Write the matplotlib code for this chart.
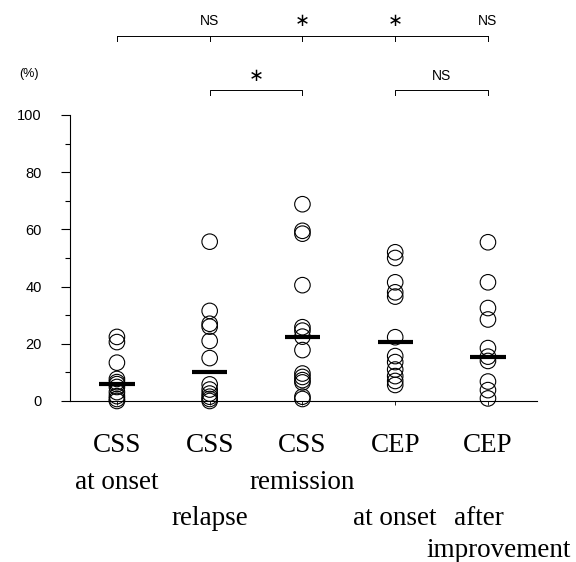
import matplotlib
matplotlib.use("Agg")
import matplotlib.pyplot as plt

plt.rcParams["font.family"] = ["Liberation Sans", "DejaVu Sans"]

# --- data ---
groups = ["CSS", "CSS", "CSS", "CEP", "CEP"]
sublabels = ["at onset", "relapse", "remission", "at onset", "after", "improvement"]

css_onset = [22.4, 20.6, 13.4, 7.7, 6.6, 5.9, 4.9, 3.1, 1.7, 0.7, 0.0]
css_relapse = [55.7, 31.5, 27.0, 26.0, 21.0, 15.0, 5.8, 4.0, 2.6, 1.5, 0.7, 0.0]
css_remission = [68.8, 59.5, 58.5, 40.5, 25.8, 24.6, 22.5, 17.8, 9.6, 8.4,
                  7.3, 6.5, 1.5, 0.7]
cep_onset = [52.0, 50.0, 41.5, 38.0, 36.5, 22.3, 15.7, 13.6, 11.0, 8.7, 7.0, 5.6]
cep_after = [55.5, 41.5, 32.5, 28.5, 18.5, 15.5, 14.0, 6.8, 3.8, 0.9]
series = [css_onset, css_relapse, css_remission, cep_onset, cep_after]

bar_values = [5.9, 10.3, 22.4, 20.7, 15.4]

# significance marks
top_labels = ["NS", "*", "*", "NS"]           # above groups 2..5
pair_marks = [((2, 3), "*"), ((4, 5), "NS")]


def sig_text(ax, x, y, lab, trans):
    if lab == "*":
        ax.text(x, y, "\u2217", transform=trans, ha="center", va="center",
                fontsize=13, family="DejaVu Sans")
    else:
        ax.text(x, y, lab, transform=trans, ha="center", va="center", fontsize=10)


fig = plt.figure(figsize=(5.76, 5.62), dpi=100)
ax = fig.add_axes([0.1215, 0.2865, 0.811, 0.5089])

for i, vals in enumerate(series):
    ax.scatter([i + 1] * len(vals), vals, s=125, facecolors="none",
               edgecolors="black", linewidths=0.8, clip_on=False, zorder=3)
    ax.hlines(bar_values[i], i + 1 - 0.19, i + 1 + 0.19, colors="black",
              linewidth=3.0, zorder=4)

ax.set_xlim(0.494, 5.53)
ax.set_ylim(0, 100)
ax.spines["top"].set_visible(False)
ax.spines["right"].set_visible(False)
ax.spines["left"].set_linewidth(0.8)
ax.spines["bottom"].set_linewidth(0.8)

ax.set_yticks(range(0, 101, 20))
ax.set_yticks(range(10, 100, 20), minor=True)
ax.tick_params(axis="y", which="major", length=6.5, width=0.8, pad=14, labelsize=10.5)
ax.tick_params(axis="y", which="minor", length=3.5, width=0.8)
ax.set_xticks(range(1, 6))
ax.set_xticklabels([])
ax.tick_params(axis="x", length=3, width=0.6)

# category labels below the axis
trans = ax.get_xaxis_transform()
serif = dict(family="Liberation Serif", fontsize=19.5, ha="center", va="center")
for i, g in enumerate(groups):
    ax.text(i + 1, -0.157, g, transform=trans, **serif)
ax.text(1, -0.285, sublabels[0], transform=trans, **serif)
ax.text(2, -0.411, sublabels[1], transform=trans, **serif)
ax.text(3, -0.285, sublabels[2], transform=trans, **serif)
ax.text(4, -0.411, sublabels[3], transform=trans, **serif)
ax.text(4.9, -0.411, sublabels[4], transform=trans, **serif)
ax.text(5.12, -0.523, sublabels[5], transform=trans, **serif)

# brackets
lw = 0.7
ax.plot([1, 5], [1.276, 1.276], color="black", lw=lw, transform=trans, clip_on=False)
for x in range(1, 6):
    ax.plot([x, x], [1.276, 1.258], color="black", lw=lw, transform=trans, clip_on=False)
for x, lab in zip(range(2, 6), top_labels):
    sig_text(ax, x, 1.33, lab, trans)
for (a, b), lab in pair_marks:
    ax.plot([a, a, b, b], [1.069, 1.087, 1.087, 1.069], color="black", lw=lw,
            transform=trans, clip_on=False)
    sig_text(ax, (a + b) / 2, 1.135, lab, trans)

fig.text(0.05, 0.868, "(%)", fontsize=9, ha="center", va="center")

fig.savefig("out.png", dpi=100)
